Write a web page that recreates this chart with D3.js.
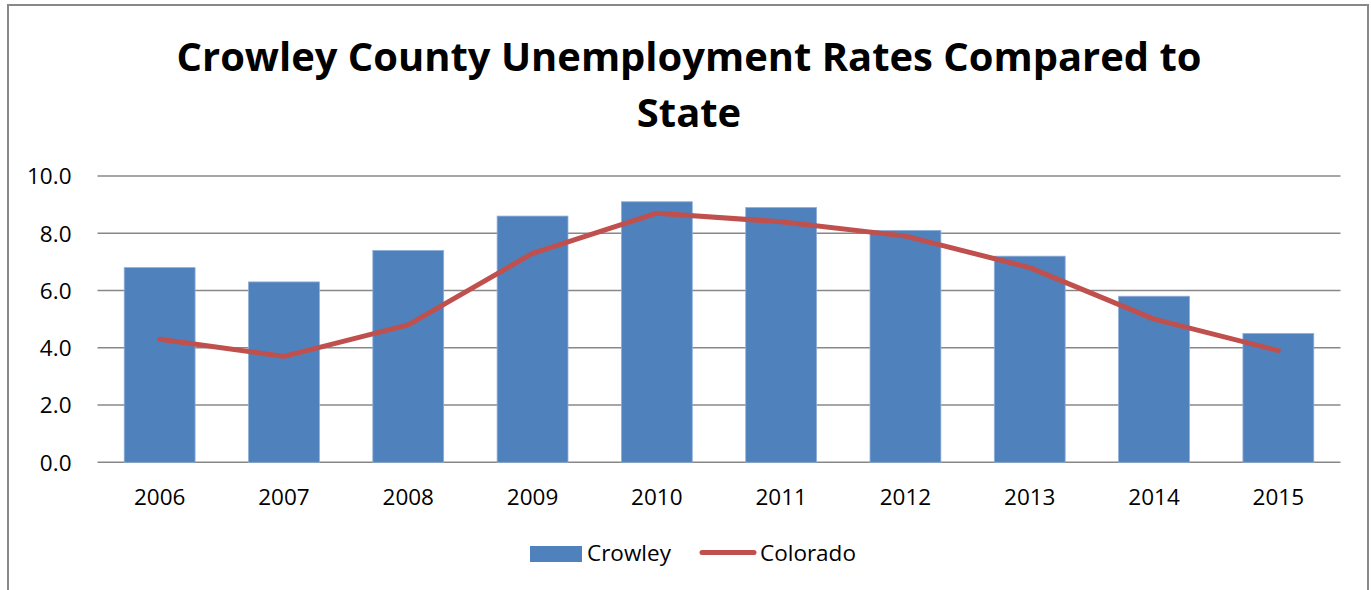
<!DOCTYPE html>
<html>
<head>
<meta charset="utf-8">
<script src="https://cdn.jsdelivr.net/npm/d3@7/dist/d3.min.js"></script>
<style>
  html, body { margin: 0; padding: 0; background: #fff; }
  svg { display: block; }
  text { font-family: "Open Sans", "Noto Sans", sans-serif; fill: #000; }
</style>
</head>
<body>
<svg id="chart" width="1371" height="590"></svg>
<script>
// Annual unemployment rates (%)
const years = ["2006", "2007", "2008", "2009", "2010", "2011", "2012", "2013", "2014", "2015"];
const crowley = [6.8, 6.3, 7.4, 8.6, 9.1, 8.9, 8.1, 7.2, 5.8, 4.5];
const colorado = [4.3, 3.7, 4.8, 7.3, 8.7, 8.4, 7.9, 6.8, 5.0, 3.9];
const yTicks = [0, 2, 4, 6, 8, 10];
const titleLines = ["Crowley County Unemployment Rates Compared to", "State"];
const seriesNames = ["Crowley", "Colorado"];

const svg = d3.select("#chart");
const barColor = "#4F81BD";
const lineColor = "#C0504D";
const gridColor = "#888888";
const labelSize = 22.5;

// Sets a text's font size so that it spans the given width
function fitWidth(sel, width) {
  const node = sel.node();
  const base = parseFloat(sel.attr("font-size"));
  const w = node.getComputedTextLength();
  sel.attr("font-size", (base * width / w).toFixed(2));
}

// Outer chart frame
svg.append("rect")
  .attr("x", 8).attr("y", 5)
  .attr("width", 1360).attr("height", 600)
  .attr("fill", "none")
  .attr("stroke", gridColor)
  .attr("stroke-width", 2);

// Title
const t1 = svg.append("text")
  .attr("x", 689).attr("y", 71)
  .attr("text-anchor", "middle")
  .attr("font-weight", "bold")
  .attr("font-size", 36)
  .text(titleLines[0]);
fitWidth(t1, 1025);
svg.append("text")
  .attr("x", 689).attr("y", 127)
  .attr("text-anchor", "middle")
  .attr("font-weight", "bold")
  .attr("font-size", t1.attr("font-size"))
  .text(titleLines[1]);

// Plot area bounds
const plotLeft = 97.5, plotRight = 1340.5, plotTop = 176, plotBottom = 462.3;

const x = d3.scaleBand()
  .domain(years)
  .range([plotLeft, plotRight])
  .paddingInner(0.43)
  .paddingOuter(0.215);

const xc = d3.scaleBand().domain(years).range([plotLeft, plotRight]);

const y = d3.scaleLinear().domain([0, 10]).range([plotBottom, plotTop]);

// Horizontal gridlines
svg.append("g")
  .selectAll("line")
  .data(yTicks)
  .join("line")
  .attr("x1", plotLeft).attr("x2", plotRight)
  .attr("y1", d => y(d)).attr("y2", d => y(d))
  .attr("stroke", gridColor)
  .attr("stroke-width", 1.6);

// Y axis tick labels
const yAxis = d3.axisLeft(y)
  .tickValues(yTicks)
  .tickFormat(d3.format(".1f"))
  .tickSize(0)
  .tickPadding(0);
const yg = svg.append("g")
  .attr("transform", `translate(${plotLeft - 26},0)`)
  .call(yAxis);
yg.select(".domain").remove();
yg.selectAll("text")
  .attr("font-size", labelSize)
  .attr("font-family", "Open Sans, sans-serif")
  .attr("fill", "#000")
  .attr("dy", "0.35em");

// Bars (Crowley)
svg.append("g")
  .selectAll("rect")
  .data(crowley)
  .join("rect")
  .attr("x", (d, i) => x(years[i]))
  .attr("width", x.bandwidth())
  .attr("y", d => y(d))
  .attr("height", d => y(0) - y(d))
  .attr("fill", barColor)
  .attr("stroke", "#8EAED6")
  .attr("stroke-width", 0.8);

// Line (Colorado)
const line = d3.line()
  .x((d, i) => xc(years[i]) + xc.bandwidth() / 2)
  .y(d => y(d));
svg.append("path")
  .datum(colorado)
  .attr("d", line)
  .attr("fill", "none")
  .attr("stroke", lineColor)
  .attr("stroke-width", 5)
  .attr("stroke-linejoin", "round")
  .attr("stroke-linecap", "round");

// X axis category labels
const xAxis = d3.axisBottom(xc).tickSize(0).tickPadding(0);
const xg = svg.append("g")
  .attr("transform", `translate(0,${plotBottom})`)
  .call(xAxis);
xg.select(".domain").remove();
xg.selectAll("text")
  .attr("font-size", labelSize)
  .attr("font-family", "Open Sans, sans-serif")
  .attr("fill", "#000")
  .attr("y", 42.5)
  .attr("dy", 0);

// Legend
const lg = svg.append("g");
lg.append("rect")
  .attr("x", 530).attr("y", 546)
  .attr("width", 52).attr("height", 16)
  .attr("fill", barColor);
lg.append("text")
  .attr("x", 587).attr("y", 560.5)
  .attr("font-size", labelSize)
  .text(seriesNames[0]);
lg.append("line")
  .attr("x1", 702).attr("x2", 754)
  .attr("y1", 552.5).attr("y2", 552.5)
  .attr("stroke", lineColor)
  .attr("stroke-width", 5)
  .attr("stroke-linecap", "round");
lg.append("text")
  .attr("x", 760).attr("y", 560.5)
  .attr("font-size", labelSize)
  .text(seriesNames[1]);
</script>
</body>
</html>
